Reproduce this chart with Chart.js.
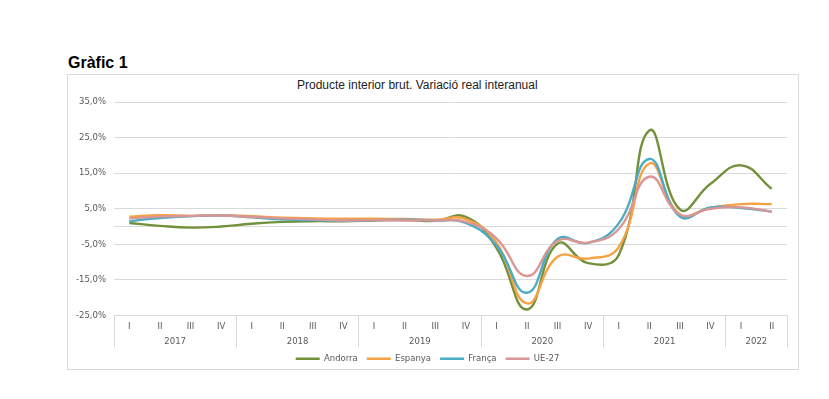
<!DOCTYPE html>
<html><head><meta charset="utf-8">
<script src="https://cdn.jsdelivr.net/npm/chart.js@4/dist/chart.umd.min.js"></script>
<style>
html,body{margin:0;padding:0;background:#fff}
body{width:829px;height:399px;position:relative;overflow:hidden;font-family:"Liberation Sans",Arial,sans-serif}
#h{position:absolute;left:68px;top:55px;font-weight:bold;font-size:16px;line-height:16px;color:#000;margin:0}
#box{position:absolute;left:67px;top:74px;width:732px;height:296px;border:1px solid #d9d9d9;box-sizing:border-box}
#t{position:absolute;left:297px;top:79px;font-size:12px;line-height:12px;color:#222;white-space:nowrap}
#wrap{position:absolute;left:68px;top:75px;width:730px;height:300px}
</style></head>
<body>
<div id="h">Gràfic 1</div>
<div id="box"></div>
<div id="t">Producte interior brut. Variació real interanual</div>
<div id="wrap"><canvas id="c"></canvas></div>
<script>
const quarters = ['I','II','III','IV','I','II','III','IV','I','II','III','IV','I','II','III','IV','I','II','III','IV','I','II'];
const years = ['2017','2018','2019','2020','2021','2022'];
const andorra = [1.0, 0.2, -0.3, 0.0, 0.8, 1.3, 1.5, 1.5, 1.7, 1.9, 1.6, 2.7, -6.0, -23.3, -4.8, -10.3, -8.0, 27.0, 4.8, 12.0, 17.2, 10.6];
const espanya = [2.8, 3.2, 3.0, 3.2, 2.9, 2.5, 2.3, 2.2, 2.2, 2.1, 1.9, 2.1, -4.5, -21.6, -8.5, -9.0, -5.8, 17.7, 3.4, 5.3, 6.3, 6.3];
const franca = [1.5, 2.4, 2.9, 3.1, 2.6, 2.0, 1.8, 1.6, 1.8, 1.9, 1.7, 1.0, -5.3, -18.6, -3.5, -4.6, 0.9, 19.0, 2.8, 5.4, 5.2, 4.2];
const ue27 = [2.3, 2.8, 3.0, 3.1, 2.7, 2.3, 2.0, 1.7, 1.8, 1.7, 1.7, 1.3, -3.3, -13.9, -4.0, -4.5, -0.7, 14.0, 3.4, 5.0, 5.4, 4.2];
const yTicks = [-25, -15, -5, 0, 5, 15, 25, 35];

// year spans derived from the quarter labels
const yearStarts = [];
quarters.forEach((q, i) => { if (q === 'I') yearStarts.push(i); });
const yearCenters = yearStarts.map((s, k) => (s + (k + 1 < yearStarts.length ? yearStarts[k + 1] : quarters.length)) / 2);

const FONT = {family: '"DejaVu Sans", sans-serif', size: 8.5};
const GRID = '#d9d9d9';
const TXT = '#595959';

const mk = (label, data, color, order) => ({
  label, data, borderColor: color, backgroundColor: color, borderWidth: 2.4,
  pointRadius: 0, pointHoverRadius: 0, tension: 0.45, fill: false, order
});

new Chart(document.getElementById('c'), {
  type: 'line',
  data: {
    labels: quarters,
    datasets: [
      mk('Andorra', andorra, '#73903A', 3),
      mk('Espanya', espanya, '#F7A145', 2),
      mk('França', franca, '#4BACC6', 1),
      mk('UE-27', ue27, '#D99694', 0)
    ]
  },
  options: {
    responsive: true, maintainAspectRatio: false, animation: false,
    layout: {padding: {top: 27, right: 11, left: 0, bottom: 2}},
    plugins: {
      title: {display: false}, tooltip: {enabled: false},
      legend: {
        position: 'bottom',
        labels: {
          usePointStyle: true, pointStyle: 'line', pointStyleWidth: 24,
          font: FONT, color: TXT, padding: 9,
          sort: (a, b) => a.datasetIndex - b.datasetIndex
        }
      }
    },
    scales: {
      y: {
        min: -25, max: 35,
        afterBuildTicks: s => { s.ticks = yTicks.map(v => ({value: v})); },
        afterFit: s => { s.width = 46; },
        ticks: {
          font: FONT, color: TXT, padding: 8,
          callback: v => v === 0 ? '' : v.toFixed(1).replace('.', ',') + '%'
        },
        grid: {color: GRID, drawTicks: false, lineWidth: 1},
        border: {display: false}
      },
      x: {
        offset: true,
        grid: {
          offset: true, drawOnChartArea: false, drawTicks: true, tickLength: 32,
          color: ctx => (ctx.index === undefined || quarters[ctx.index] === 'I') ? GRID : 'rgba(0,0,0,0)'
        },
        border: {display: true, color: GRID},
        ticks: {font: FONT, color: TXT, padding: -26, autoSkip: false, maxRotation: 0},
        afterFit: s => { s.height = 16; }
      },
      x2: {
        type: 'linear', position: 'bottom', min: 0, max: quarters.length, offset: false,
        afterBuildTicks: s => { s.ticks = yearCenters.map(v => ({value: v})); },
        grid: {display: false, drawTicks: false},
        border: {display: false},
        ticks: {
          font: FONT, color: TXT, padding: 5, autoSkip: false, maxRotation: 0,
          callback: (v) => { const k = yearCenters.indexOf(v); return k >= 0 ? years[k] : ''; }
        },
        afterFit: s => { s.height = 14; }
      }
    }
  }
});
</script>
</body></html>
